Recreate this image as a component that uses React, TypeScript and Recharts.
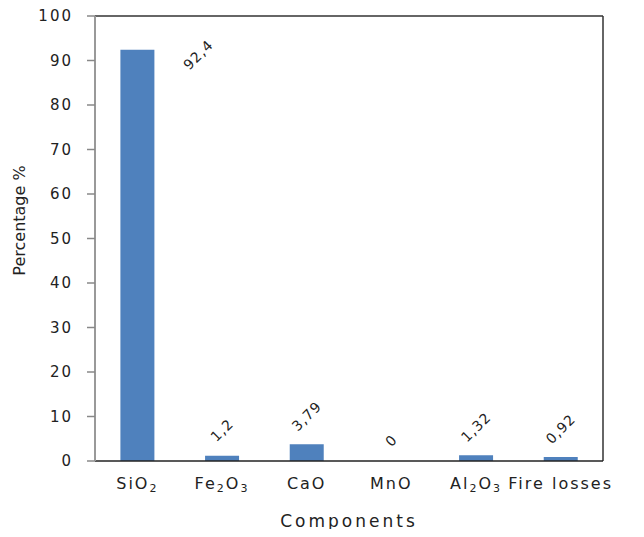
import React from "react";
import { ComposedChart, Bar, Line, XAxis, YAxis, LabelList } from "recharts";

const categories = ["SiO2", "Fe2O3", "CaO", "MnO", "Al2O3", "Fire losses"];
const percentages = [92.4, 1.2, 3.79, 0, 1.32, 0.92];
const yTicks = [0, 10, 20, 30, 40, 50, 60, 70, 80, 90, 100];

const data = categories.map((name, i) => ({ name, value: percentages[i] }));

const FONT = "'DejaVu Sans', Verdana, sans-serif";
const TEXT = "#222";

// splits "Fe2O3" into pieces so the digits can be drawn as subscripts
const formulaParts = (s: string) => {
    if (s.includes(" ")) return [{ t: s, sub: false }];
    return s.split(/(\d+)/).filter(Boolean).map((t) => ({ t, sub: /^\d+$/.test(t) }));
};

const CategoryTick = (props: any) => {
    const { x, y, payload } = props;
    const parts = formulaParts(payload.value);
    return (
        <text x={x} y={y + 28} textAnchor="middle" fill={TEXT} fontFamily={FONT} fontSize={16} letterSpacing={2}>
            {parts.map((p, i) =>
                p.sub ? (
                    <tspan key={i} fontSize={11} dy={3}>{p.t}</tspan>
                ) : (
                    <tspan key={i} dy={i > 0 && parts[i - 1].sub ? -3 : 0}>{p.t}</tspan>
                )
            )}
        </text>
    );
};

// label sits on the (invisible) line point, i.e. the top centre of each bar
const ValueLabel = (props: any) => {
    const { x, y, value } = props;
    if (value == null) return null;
    const txt = String(value).replace(".", ",");
    // the tallest bar gets its label pushed to the right side, like Excel did
    const tall = value > 80;
    const cx = x + (tall ? 61 : 0);
    const cy = tall ? y + 5 : y - (18 + txt.length * 2.5);
    return (
        <text
            x={cx}
            y={cy}
            dy="0.35em"
            textAnchor="middle"
            fill={TEXT}
            fontFamily={FONT}
            fontSize={14}
            letterSpacing={1}
            transform={`rotate(-45 ${cx} ${cy})`}
        >
            {txt}
        </text>
    );
};

const YTitle = (props: any) => {
    const { viewBox } = props;
    const cx = viewBox.x + 25;
    const cy = viewBox.y + viewBox.height / 2 - 18;
    return (
        <text x={cx} y={cy} textAnchor="middle" fill={TEXT} fontFamily={FONT} fontSize={16}
            transform={`rotate(-90 ${cx} ${cy})`}>
            Percentage %
        </text>
    );
};

const App: React.FC = () => {
    return (
        <div style={{ width: 644, height: 537, margin: -8, background: "#fff" }}>
            <ComposedChart
                width={644}
                height={537}
                data={data}
                margin={{ top: 15, right: 40, left: 0, bottom: 0 }}
                barCategoryGap="30%"
            >
                {/* top and right axes are only there to close the plot frame */}
                <XAxis
                    xAxisId="top"
                    orientation="top"
                    dataKey="name"
                    height={1}
                    tick={false}
                    tickLine={false}
                    axisLine={{ stroke: "#333", strokeWidth: 1.5 }}
                />
                <YAxis
                    yAxisId="right"
                    orientation="right"
                    width={1}
                    domain={[0, 100]}
                    tick={false}
                    tickLine={false}
                    axisLine={{ stroke: "#333", strokeWidth: 1.5 }}
                />
                <XAxis
                    xAxisId="bottom"
                    dataKey="name"
                    height={76}
                    tick={<CategoryTick />}
                    tickLine={false}
                    tickSize={0}
                    tickMargin={0}
                    interval={0}
                    axisLine={{ stroke: "#222", strokeWidth: 1.5 }}
                    label={{
                        value: "Components",
                        position: "insideBottom",
                        offset: 10,
                        fill: TEXT,
                        fontFamily: FONT,
                        fontSize: 17,
                        letterSpacing: 3,
                    }}
                />
                <YAxis
                    yAxisId="left"
                    width={95}
                    domain={[0, 100]}
                    ticks={yTicks}
                    interval={0}
                    tickSize={8}
                    tickMargin={14}
                    tick={{ fill: TEXT, fontFamily: FONT, fontSize: 15, letterSpacing: 2 }}
                    tickLine={{ stroke: "#888", strokeWidth: 1.5 }}
                    axisLine={{ stroke: "#999", strokeWidth: 2 }}
                    label={<YTitle />}
                />
                <Bar xAxisId="bottom" yAxisId="left" dataKey="value" fill="#4F81BD" isAnimationActive={false} />
                <Line
                    xAxisId="top"
                    yAxisId="right"
                    dataKey="value"
                    stroke="none"
                    dot={false}
                    activeDot={false}
                    isAnimationActive={false}
                >
                    <LabelList dataKey="value" content={<ValueLabel />} />
                </Line>
            </ComposedChart>
        </div>
    );
};

export default App;
